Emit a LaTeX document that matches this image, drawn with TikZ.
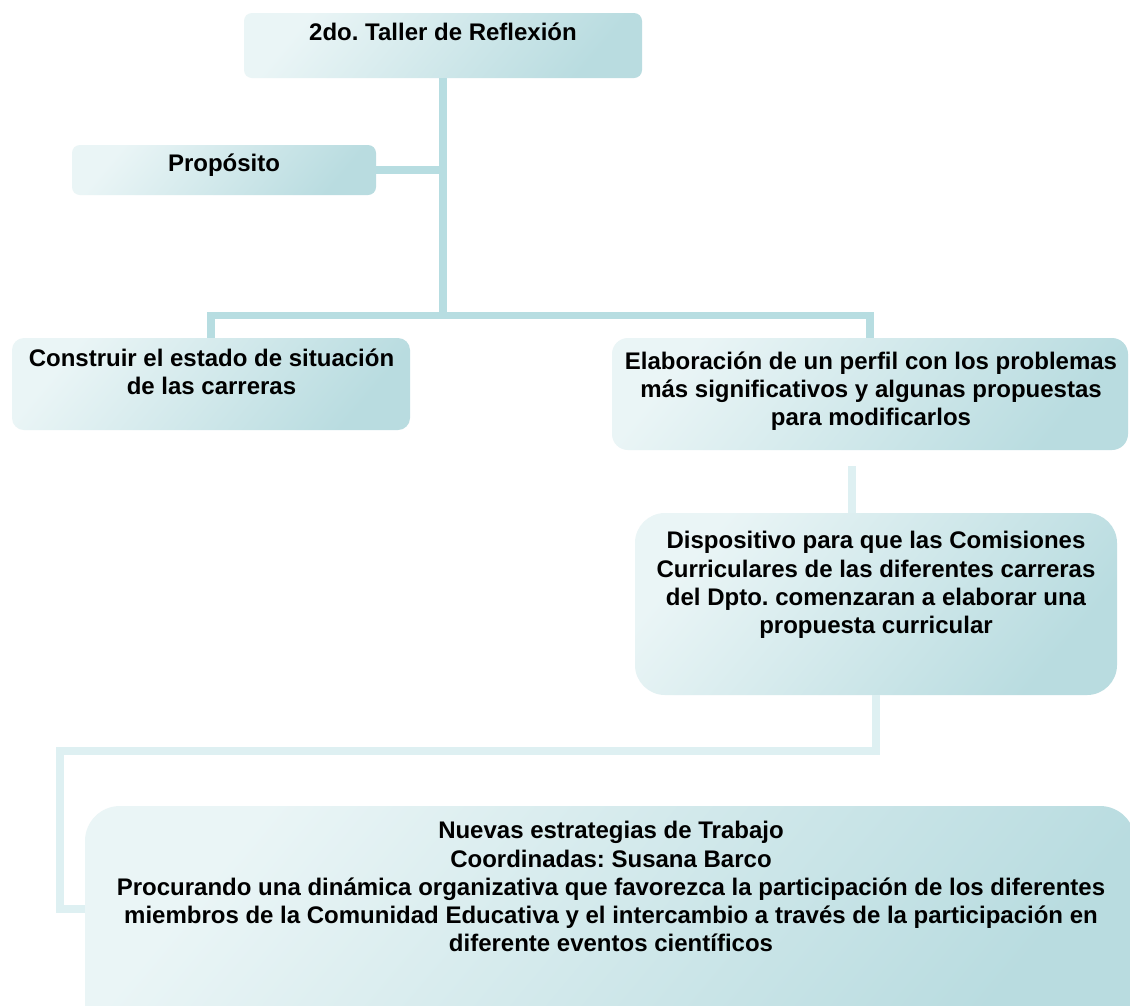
\documentclass[tikz,border=0pt]{standalone}
\usepackage{fontspec}
\setmainfont{Liberation Sans}
\frenchspacing
\definecolor{boxL}{HTML}{EAF5F6}
\definecolor{boxM}{HTML}{DCEEF0}
\definecolor{boxR}{HTML}{B9DCE0}
\definecolor{connDark}{HTML}{B7DDE1}
\definecolor{connLight}{HTML}{DEF0F2}
\begin{document}
\begin{tikzpicture}[x=1pt,y=-1pt,
  box/.style={shape=rectangle, inner sep=0pt, draw=none, left color=boxL, middle color=boxM, right color=boxR, shading angle=50},
  txt/.style={align=center, anchor=north, inner sep=0pt, font=\fontsize{24}{28.3}\selectfont\bfseries},
  connA/.style={draw=connDark, line width=7.5pt},
  connB/.style={draw=connLight, line width=8pt}]
\path[use as bounding box, fill=white] (0,0) rectangle (1130,1005);

% boxes
\node[box, rounded corners=8pt, minimum width=398pt, minimum height=65pt] (top) at (443,45.5) {};
\node[box, rounded corners=8pt, minimum width=304pt, minimum height=50pt] (prop) at (224,170) {};
\node[box, rounded corners=12pt, minimum width=398pt, minimum height=92pt] (cons) at (211,384) {};
\node[box, rounded corners=16pt, minimum width=516pt, minimum height=112pt] (elab) at (870,394) {};
\node[box, rounded corners=30pt, minimum width=482pt, minimum height=182pt] (disp) at (876,604) {};
\node[box, rounded corners=35pt, minimum width=1050pt, minimum height=244pt] (nue) at (610,928) {};

% texts
\node[txt] (toptext) at (443,20.2) {\strut 2do. Taller de Reflexión};
\node[txt] (proptext) at (224,151.2) {\strut Propósito};
\node[txt] (constext) at (211.5,346.2) {\strut Construir el estado de situación\\de las carreras};
\node[txt] (elabtext) at (871,349.2) {\strut Elaboración de un perfil con los problemas\\más significativos y algunas propuestas\\para modificarlos};
\node[txt] (disptext) at (876,528.7) {\strut Dispositivo para que las Comisiones\\Curriculares de las diferentes carreras\\del Dpto. comenzaran a elaborar una\\propuesta curricular};
\node[txt] (nuetext) at (611,818.7) {\strut Nuevas estrategias de Trabajo\\Coordinadas: Susana Barco\\Procurando una dinámica organizativa que favorezca la participación de los diferentes\\miembros de la Comunidad Educativa y el intercambio a través de la participación en\\diferente eventos científicos};

% helper coordinates
\coordinate (busY) at (0,315.5);
\coordinate (e2d) at (852,466);
\coordinate (turnY) at (0,751);
\coordinate (leftX) at (60,0);
\coordinate (botY) at (0,909);

% connectors
\draw[connA] (top.south) -- (top.south |- busY);
\draw[connA] (prop.east) -- (prop.east -| top.south);
\draw[connA] (cons.north) -- (cons.north |- busY) -- (elab.north |- busY) -- (elab.north);
\draw[connB] (e2d) -- (e2d |- disp.north);
\draw[connB] (disp.south) -- (disp.south |- turnY) -- (leftX |- turnY) -- (leftX |- botY) -- (nue.west |- botY);
\end{tikzpicture}
\end{document}
